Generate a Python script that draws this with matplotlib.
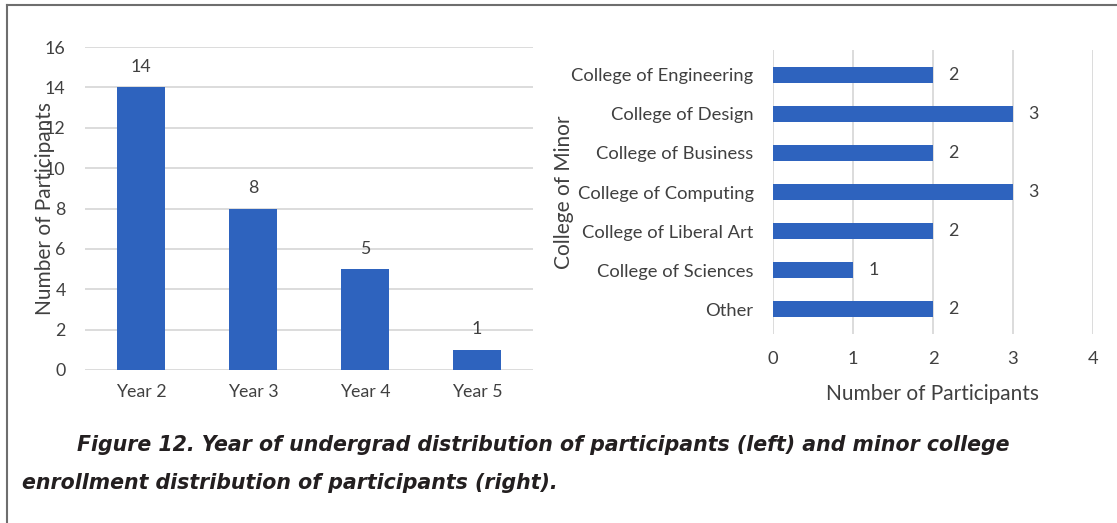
import matplotlib
matplotlib.use("Agg")
import matplotlib.pyplot as plt
from matplotlib.lines import Line2D

# year of undergrad (left panel)
years = ["Year 2", "Year 3", "Year 4", "Year 5"]
year_counts = [14, 8, 5, 1]

# college of minor (right panel)
colleges = ["College of Engineering", "College of Design", "College of Business",
            "College of Computing", "College of Liberal Art", "College of Sciences", "Other"]
college_counts = [2, 3, 2, 3, 2, 1, 2]

caption_1 = "Figure 12. Year of undergrad distribution of participants (left) and minor college"
caption_2 = "enrollment distribution of participants (right)."

BAR = "#2e63be"
GRID = "#d9d9d9"
TXT = "#404040"
TICK = 12.8
LAB = 15

plt.rcParams["font.family"] = ["Lato", "DejaVu Sans"]

fig = plt.figure(figsize=(11.17, 5.23), dpi=100)
W, H = 1117, 523

def box(x0, y0, x1, y1):
    return [x0 / W, 1 - y1 / H, (x1 - x0) / W, (y1 - y0) / H]

# left: vertical bars
ax1 = fig.add_axes(box(85, 47, 533, 370))
xs = range(len(years))
ax1.bar(xs, year_counts, width=0.42, color=BAR, zorder=2)
ax1.set_xlim(-0.5, len(years) - 0.5)
ax1.set_ylim(0, 16)
ax1.set_yticks(range(0, 17, 2))
ax1.set_xticks(list(xs))
ax1.set_xticklabels(years)
ax1.yaxis.grid(True, color=GRID, linewidth=1.3, zorder=0)
for s in ax1.spines.values():
    s.set_visible(False)
ax1.tick_params(length=0, labelsize=TICK, colors=TXT, pad=14)
ax1.tick_params(axis="x", pad=10)
for x, v in zip(xs, year_counts):
    ax1.annotate(str(v), (x, v), xytext=(0, 9), textcoords="offset points",
                 ha="center", va="bottom", fontsize=TICK, color=TXT)
ax1.set_ylabel("Number of Participants", fontsize=LAB, color=TXT, labelpad=-7)

# right: horizontal bars
ax2 = fig.add_axes(box(773, 49.6, 1093, 334.4))
ys = range(len(colleges))
ax2.barh(ys, college_counts, height=0.42, color=BAR, zorder=2)
ax2.set_ylim(len(colleges) - 0.35, -0.65)
ax2.set_xlim(0, 4)
ax2.set_xticks(range(0, 5))
ax2.set_yticks(list(ys))
ax2.set_yticklabels(colleges)
ax2.xaxis.grid(True, color=GRID, linewidth=1.3, zorder=0)
for s in ax2.spines.values():
    s.set_visible(False)
ax2.tick_params(length=0, labelsize=13.2, colors=TXT, pad=14)
ax2.tick_params(axis="x", pad=12)
for y, v in zip(ys, college_counts):
    ax2.annotate(str(v), (v, y), xytext=(11, 0), textcoords="offset points",
                 ha="left", va="center", fontsize=TICK, color=TXT)
ax2.set_xlabel("Number of Participants", fontsize=LAB, color=TXT, labelpad=12)
ax2.set_ylabel("College of Minor", fontsize=LAB, color=TXT, labelpad=-2)

# caption
cap = dict(fontsize=14.8, fontweight="bold", fontstyle="italic", color="#231f20",
           family=["DejaVu Sans"], va="center", ha="left")
fig.text(77 / W, 1 - 445 / H, caption_1, **cap)
fig.text(22 / W, 1 - 483 / H, caption_2, **cap)

# page frame
fig.add_artist(Line2D([7 / W, 1], [1 - 5 / H, 1 - 5 / H], color="#6e6e6e", linewidth=1.5))
fig.add_artist(Line2D([7 / W, 7 / W], [0, 1 - 5 / H], color="#6e6e6e", linewidth=1.5))

fig.savefig("out.png", dpi=100)
